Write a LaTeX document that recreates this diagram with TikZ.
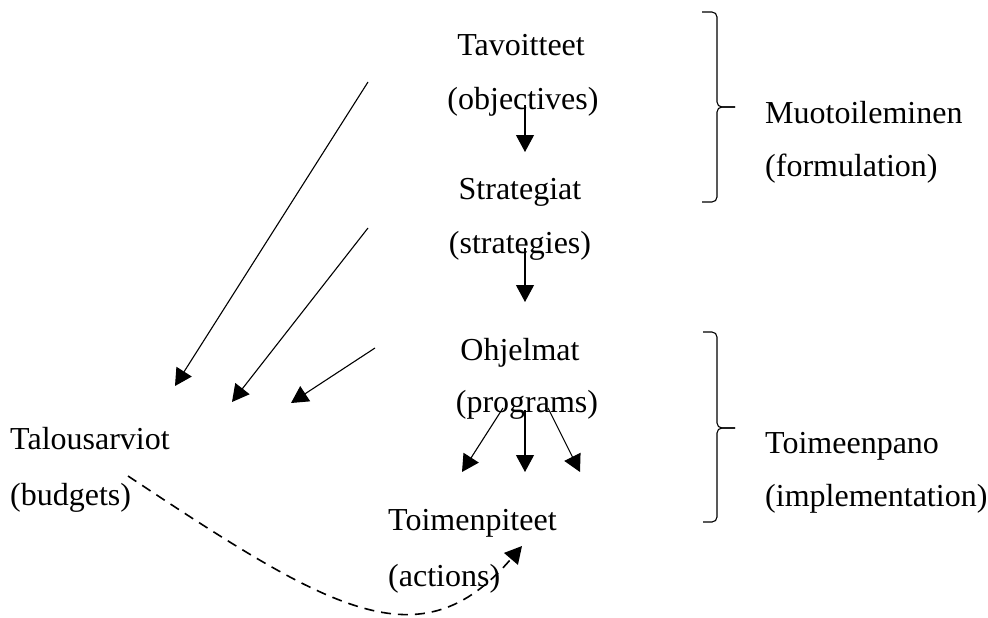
\documentclass[tikz,border=0pt]{standalone}
\usepackage{fontspec}
\setmainfont{Liberation Serif}
\usetikzlibrary{arrows.meta}
\begin{document}
\begin{tikzpicture}[x=1pt,y=-1pt,
  lbl/.style={inner sep=0pt,font=\fontsize{32}{38}\selectfont},
  lblc/.style={lbl,anchor=base},
  lbll/.style={lbl,anchor=base west},
  arr/.style={line width=1.1pt,-{Triangle[length=17pt,width=18pt]}},
  brace/.style={line width=1.1pt,rounded corners=5pt},
  dasharr/.style={line width=1.6pt,dash pattern=on 10pt off 7pt,-{Triangle[length=17pt,width=18pt]}}]
\useasboundingbox (0,0) rectangle (988,618);
% texts
\node[lblc] (tav) at (521,56) {Tavoitteet};
\node[lblc] (obj) at (523,109) {(objectives)};
\node[lblc] (str) at (520,199) {Strategiat};
\node[lblc] (stre) at (520,253) {(strategies)};
\node[lblc] (ohj) at (520,360) {Ohjelmat};
\node[lblc] (prog) at (527,412) {(programs)};
\node[lbll] (toi) at (388,530) {Toimenpiteet};
\node[lbll] (act) at (388,586) {(actions)};
\node[lbll] (tal) at (10,449) {Talousarviot};
\node[lbll] (bud) at (10,505) {(budgets)};
\node[lbll] (muo) at (765,123) {Muotoileminen};
\node[lbll] (form) at (765,176) {(formulation)};
\node[lbll] (toim) at (765,453) {Toimeenpano};
\node[lbll] (impl) at (765,506) {(implementation)};
% coordinates
\coordinate (a1s) at (525,105); \coordinate (a1e) at (525,152);
\coordinate (a2s) at (525,248); \coordinate (a2e) at (525,302);
\coordinate (a3s) at (525,410); \coordinate (a3e) at (525,472);
\coordinate (a4s) at (503,408); \coordinate (a4e) at (462,472);
\coordinate (a5s) at (548,408); \coordinate (a5e) at (580,472);
\coordinate (d1s) at (368,82);  \coordinate (d1e) at (175,386);
\coordinate (d2s) at (368,228); \coordinate (d2e) at (232,402);
\coordinate (d3s) at (375,348); \coordinate (d3e) at (291,403);
\coordinate (bs) at (128,476); \coordinate (be) at (522,546);
% arrows
\draw[arr] (a1s) -- (a1e);
\draw[arr] (a2s) -- (a2e);
\draw[arr] (a3s) -- (a3e);
\draw[arr] (a4s) -- (a4e);
\draw[arr] (a5s) -- (a5e);
\draw[arr] (d1s) -- (d1e);
\draw[arr] (d2s) -- (d2e);
\draw[arr] (d3s) -- (d3e);
\draw[dasharr] (bs) .. controls (330,610) and (420,665) .. (be);
% braces
\draw[brace] (702,12) -- (717,12) -- (717,107) -- (735,107);
\draw[brace] (735,107) -- (717,107) -- (717,202) -- (702,202);
\draw[brace] (703,332) -- (717,332) -- (717,428) -- (735,428);
\draw[brace] (735,428) -- (717,428) -- (717,522) -- (703,522);
\end{tikzpicture}
\end{document}
